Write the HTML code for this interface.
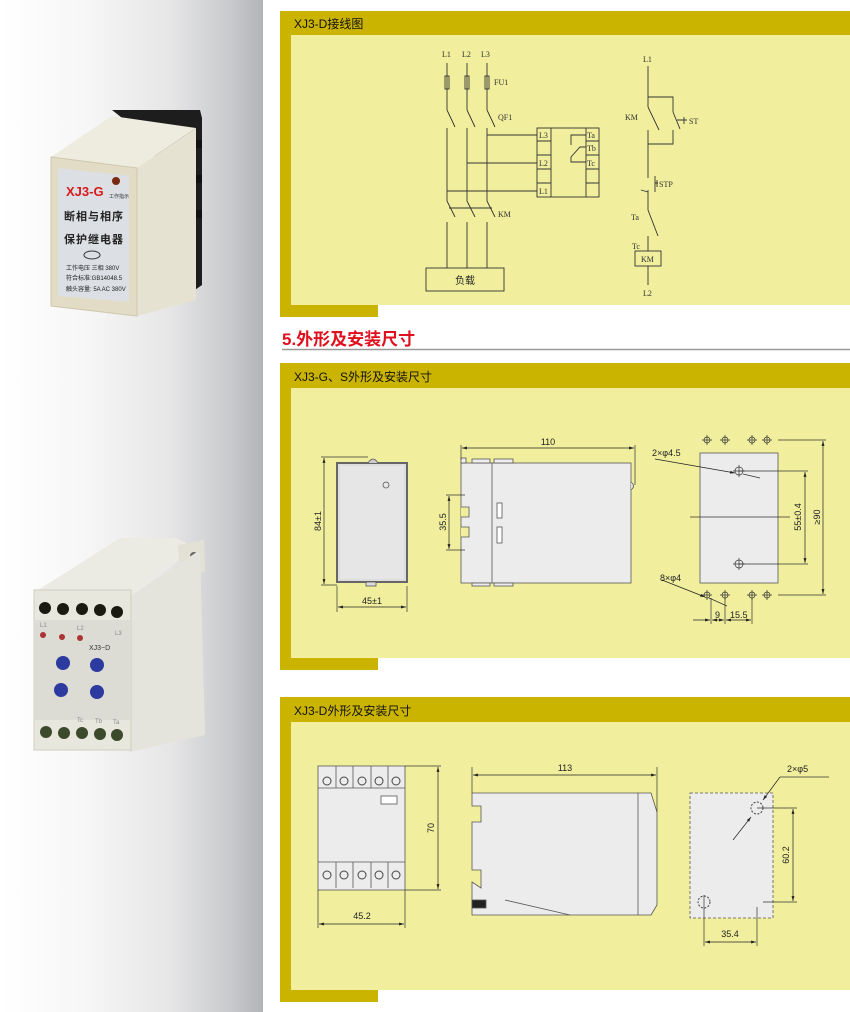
<!DOCTYPE html>
<html><head><meta charset="utf-8"><style>
html,body{margin:0;padding:0}
body{width:850px;height:1012px;position:relative;overflow:hidden;background:#fff;font-family:"Liberation Sans","Noto Sans CJK SC",sans-serif}
#left{position:absolute;left:0;top:0;width:263px;height:1012px;background:linear-gradient(to right,#fff 0,#f6f6f6 90px,#e6e6e7 170px,#c9cacd 230px,#b3b4b8 262px)}
svg{position:absolute;left:0;top:0}
</style></head><body>
<div id="left"></div>
<svg width="850" height="1012" viewBox="0 0 850 1012" font-family="Liberation Sans, Noto Sans CJK SC, sans-serif">
<defs>
<marker id="a" viewBox="0 0 10 10" refX="10" refY="5" markerWidth="7" markerHeight="7" orient="auto-start-reverse"><path d="M0,2L10,5L0,8Z" fill="#222"/></marker>
</defs>
<!-- Device 1 -->
<polygon points="112,110 200,110 202,118 202,285 192,292 150,140" fill="#1d1d1d"/>
<polygon points="51,157 137,168 196,128 112,116" fill="#eeebdf"/>
<polygon points="137,168 196,128 196,300 137,316" fill="#e6e2d2"/>
<rect x="196" y="140" width="6" height="8" fill="#111"/><rect x="196" y="175" width="6" height="8" fill="#111"/><rect x="196" y="210" width="6" height="8" fill="#111"/>
<polygon points="51,157 137,168 137,316 51,306" fill="#e2dcc6" stroke="#cfc7ad"/>
<polygon points="58,168 129,176 129,302 58,296" fill="#dcdfe4"/>
<circle cx="116" cy="181" r="4" fill="#7a2a10"/>
<text x="66" y="196" font-size="13" font-weight="bold" fill="#d81a1a">XJ3-G</text>
<text x="109" y="198" font-size="5" fill="#333">工作指示</text>
<text x="64" y="220" font-size="11" font-weight="bold" fill="#222" letter-spacing="1">断相与相序</text>
<text x="64" y="243" font-size="11" font-weight="bold" fill="#222" letter-spacing="1">保护继电器</text>
<ellipse cx="92" cy="255" rx="8" ry="4" fill="none" stroke="#333"/>
<text x="66" y="270" font-size="6" fill="#222">工作电压 三相 380V</text>
<text x="66" y="280" font-size="6" fill="#222">符合标准:GB14048.5</text>
<text x="66" y="291" font-size="6" fill="#222">触头容量: 5A AC 380V</text>
<!-- Device 2 -->
<polygon points="38,590 130,596 196,548 176,538 120,538" fill="#ecebe3"/>
<polygon points="178,545 204,540 205,572 180,575" fill="#e3e0d6"/>
<circle cx="194" cy="556" r="4" fill="#666"/>
<polygon points="130,596 200,550 205,735 130,752" fill="#e5e4dc"/>
<rect x="34" y="590" width="97" height="160" fill="#e8e7de" stroke="#cfcdc2"/>
<rect x="34" y="620" width="97" height="100" fill="#dddcd4"/>
<g fill="#1a1a10"><circle cx="45" cy="608" r="6"/><circle cx="63" cy="609" r="6"/><circle cx="82" cy="609" r="6"/><circle cx="100" cy="610" r="6"/><circle cx="117" cy="612" r="6"/></g>
<g fill="#3b4a2a"><circle cx="46" cy="732" r="6"/><circle cx="64" cy="733" r="6"/><circle cx="82" cy="733" r="6"/><circle cx="100" cy="734" r="6"/><circle cx="117" cy="735" r="6"/></g>
<g fill="#a33"><circle cx="43" cy="635" r="3"/><circle cx="62" cy="637" r="3"/><circle cx="80" cy="638" r="3"/></g>
<text x="89" y="650" font-size="7" fill="#333">XJ3−D</text>
<g fill="#2d3aa0"><circle cx="63" cy="663" r="7"/><circle cx="97" cy="665" r="7"/><circle cx="61" cy="690" r="7"/><circle cx="97" cy="692" r="7"/></g>
<text x="40" y="627" font-size="6" fill="#888">L1</text><text x="77" y="630" font-size="6" fill="#888">L2</text><text x="115" y="635" font-size="6" fill="#888">L3</text>
<text x="77" y="722" font-size="6" fill="#888">Tc</text><text x="95" y="723" font-size="6" fill="#888">Tb</text><text x="113" y="724" font-size="6" fill="#888">Ta</text>

<!-- Panels -->
<g fill="#cbb400">
<rect x="280" y="11" width="570" height="24"/><rect x="280" y="11" width="11" height="306"/><rect x="280" y="305" width="98" height="12"/>
<rect x="280" y="363" width="570" height="25"/><rect x="280" y="363" width="11" height="307"/><rect x="280" y="658" width="98" height="12"/>
<rect x="280" y="697" width="570" height="25"/><rect x="280" y="697" width="11" height="305"/><rect x="280" y="990" width="98" height="12"/>
</g>
<g fill="#f1ef9d">
<rect x="291" y="35" width="559" height="270"/><rect x="291" y="388" width="559" height="270"/><rect x="291" y="722" width="559" height="268"/>
</g>
<g font-size="12" fill="#111">
<text x="294" y="28">XJ3-D接线图</text>
<text x="294" y="381">XJ3-G、S外形及安装尺寸</text>
<text x="294" y="715">XJ3-D外形及安装尺寸</text>
</g>
<text x="282" y="345" font-size="17" font-weight="bold" fill="#e0101e">5.外形及安装尺寸</text>
<line x1="282" y1="349.5" x2="850" y2="349.5" stroke="#999" stroke-width="1.5"/>

<!-- Wiring diagram -->
<g stroke="#333" stroke-width="0.9" fill="none">
<path d="M447,63V110 M467,63V110 M487,63V110"/>
<rect x="445" y="76" width="4" height="13"/><rect x="465" y="76" width="4" height="13"/><rect x="485" y="76" width="4" height="13"/>
<path d="M447,110L455,127 M467,110L475,127 M487,110L495,127"/>
<path d="M447,128V201 M467,128V201 M487,128V201"/>
<path d="M487,135H537 M467,163H537 M447,191H537"/>
<rect x="537" y="128" width="62" height="69"/>
<path d="M551,128V197 M586,128V197 M537,141H551 M537,155H551 M537,169H551 M537,183H551 M586,141H599 M586,155H599 M586,169H599 M586,183H599"/>
<path d="M586,135H571V145 M586,147H580L571,157V162H586"/>
<path d="M447,201L455,217 M467,201L475,217 M487,201L495,217 M449,208H492"/>
<path d="M447,222V268 M467,222V268 M487,222V268"/>
<rect x="426" y="268" width="78" height="23"/>
<path d="M648,66V107 M648,107L659,130 M648,130V170 M648,97H673V112 M673,112L680,129 M673,130V144H648"/>
<path d="M677,120H687 M684,117V124"/>
<path d="M648,170V178 M655,176V192 M648,192L641,190 M648,190V210 M655,183H658 M657,180V187"/>
<path d="M648,210L658,236 M648,236V251"/>
<rect x="635" y="251" width="26" height="15"/>
<path d="M648,266V285"/>
</g>
<g font-family="Liberation Serif, serif" font-size="8" fill="#333">
<text x="442" y="57">L1</text><text x="462" y="57">L2</text><text x="481" y="57">L3</text>
<text x="494" y="85">FU1</text><text x="498" y="120">QF1</text><text x="498" y="217">KM</text>
<text x="539" y="138">L3</text><text x="539" y="166">L2</text><text x="539" y="194">L1</text>
<text x="587" y="138">Ta</text><text x="587" y="151">Tb</text><text x="587" y="166">Tc</text>
<text x="643" y="62">L1</text><text x="625" y="120">KM</text><text x="689" y="124">ST</text>
<text x="659" y="187">STP</text><text x="631" y="220">Ta</text><text x="632" y="249">Tc</text>
<text x="641" y="262">KM</text><text x="643" y="296">L2</text>
</g>
<text x="465" y="284" font-size="10" text-anchor="middle" fill="#222">负载</text>

<!-- Panel 2 drawings -->
<g stroke="#555" stroke-width="0.8">
<rect x="337" y="463" width="70" height="119" fill="#ddd" stroke="#666" stroke-width="2"/>
<rect x="340" y="466" width="64" height="113" fill="#e6e6e6" stroke="none"/>
<circle cx="386" cy="485" r="3" fill="none"/>
<path d="M368,463Q373,455 378,463" fill="#ccc"/>
<rect x="366" y="582" width="10" height="4" fill="#ddd"/>
<rect x="461" y="463" width="170" height="120" fill="#ececec"/>
<path d="M492,463V583" fill="none"/>
<rect x="472" y="459" width="18" height="4" fill="#eee"/><rect x="494" y="459" width="19" height="4" fill="#eee"/>
<rect x="472" y="583" width="18" height="3" fill="#eee"/><rect x="494" y="583" width="19" height="3" fill="#eee"/>
<rect x="461" y="458" width="5" height="5" fill="#eee"/>
<path d="M461,507H469V517H461 M461,527H469V537H461" fill="#f1ef9d"/>
<rect x="497" y="503" width="5" height="15" fill="#fff"/><rect x="497" y="527" width="5" height="16" fill="#fff"/>
<path d="M631,482Q636,486 631,490" fill="#ddd"/>
<rect x="700" y="453" width="78" height="130" fill="#ececec"/>
</g>
<g stroke="#333" stroke-width="0.7" fill="none">
<path d="M321,457H368 M321,585H337 M337,586V612 M407,586V612"/>
<path d="M461,445V460 M635,445V485"/>
<path d="M446,495H465 M446,550H465"/>
<path d="M739,471H808 M739,564H808 M778,440H826 M778,595H826 M690,517H790"/>
<path d="M711,598V624 M725,598V624 M752,598V624"/>
</g>
<g stroke="#222" stroke-width="0.7" fill="none" marker-start="url(#a)" marker-end="url(#a)">
<path d="M324,458V584"/><path d="M338,607H406"/><path d="M462,448H634"/><path d="M449,496V549"/>
<path d="M805,472V563"/><path d="M823,441V594"/>
<path d="M712,620H724"/><path d="M726,620H751"/>
</g>
<g stroke="#222" stroke-width="0.7" fill="none" marker-end="url(#a)">
<path d="M655,459L735,473"/><path d="M662,580L705,597"/><path d="M693,620H710"/>
</g>
<g stroke="#333" stroke-width="0.7" fill="none">
<path d="M743,474L760,478 M709,598L727,606"/>
<circle cx="739" cy="471" r="4"/><circle cx="739" cy="564" r="4"/>
<circle cx="707" cy="440" r="3"/><circle cx="725" cy="440" r="3"/><circle cx="752" cy="440" r="3"/><circle cx="767" cy="440" r="3"/>
<circle cx="707" cy="595" r="3"/><circle cx="725" cy="595" r="3"/><circle cx="752" cy="595" r="3"/><circle cx="767" cy="595" r="3"/>
<path d="M707,435V445M702,440H712 M725,435V445M720,440H730 M752,435V445M747,440H757 M767,435V445M762,440H772 M707,590V600M702,595H712 M725,590V600M720,595H730 M752,590V600M747,595H757 M767,590V600M762,595H772 M739,465V477M733,471H745 M739,558V570M733,564H745"/>
</g>
<g fill="#222" font-size="9">
<text x="548" y="445" text-anchor="middle">110</text>
<text x="372" y="604" text-anchor="middle">45±1</text>
<text x="652" y="456">2×φ4.5</text>
<text x="660" y="581">8×φ4</text>
<text x="715" y="618">9</text><text x="730" y="618">15.5</text>
<text transform="translate(321,521) rotate(-90)" text-anchor="middle">84±1</text>
<text transform="translate(446,522) rotate(-90)" text-anchor="middle">35.5</text>
<text transform="translate(801,517) rotate(-90)" text-anchor="middle">55±0.4</text>
<text transform="translate(820,517) rotate(-90)" text-anchor="middle">≥90</text>
</g>

<!-- Panel 3 drawings -->
<g stroke="#555" stroke-width="0.8">
<rect x="318" y="766" width="87" height="124" fill="#ececec"/>
<path d="M318,788H405 M318,862H405 M336,766V788 M353,766V788 M371,766V788 M388,766V788 M336,862V888 M353,862V888 M371,862V888 M388,862V888" fill="none"/>
<rect x="381" y="796" width="16" height="8" fill="#fff"/>
<path d="M472,793H651L657,812V905L651,915H472V882L481,888V870H472V822H481V806H472Z" fill="#ececec"/>
<path d="M638,793V915 M505,900L570,915" fill="none"/>
<rect x="472" y="900" width="14" height="8" fill="#222"/>
<rect x="690" y="793" width="83" height="125" fill="#ececec" stroke-dasharray="3,2"/>
</g>
<g fill="none" stroke="#444" stroke-width="1">
<circle cx="327" cy="781" r="4"/><circle cx="344" cy="781" r="4"/><circle cx="362" cy="781" r="4"/><circle cx="379" cy="781" r="4"/><circle cx="396" cy="781" r="4"/>
<circle cx="327" cy="875" r="4"/><circle cx="344" cy="875" r="4"/><circle cx="362" cy="875" r="4"/><circle cx="379" cy="875" r="4"/><circle cx="396" cy="875" r="4"/>
<circle cx="757" cy="808" r="6" stroke-dasharray="2,1.5"/><circle cx="704" cy="902" r="6" stroke-dasharray="2,1.5"/>
</g>
<g stroke="#333" stroke-width="0.7" fill="none">
<path d="M405,766H441 M405,890H441 M318,890V928 M405,890V928"/>
<path d="M472,767V793 M657,767V812"/>
<path d="M757,808H797 M763,902H797 M704,895V946 M757,907V946"/>
<path d="M829,777H780"/>
</g>
<g stroke="#222" stroke-width="0.7" fill="none" marker-start="url(#a)" marker-end="url(#a)">
<path d="M438,767V889"/><path d="M319,924H404"/><path d="M473,775H656"/><path d="M793,809V901"/><path d="M705,942H756"/>
</g>
<g stroke="#222" stroke-width="0.7" fill="none" marker-end="url(#a)">
<path d="M780,777L763,800"/><path d="M733,840L751,817"/>
</g>
<g fill="#222" font-size="9">
<text x="565" y="771" text-anchor="middle">113</text>
<text x="362" y="919" text-anchor="middle">45.2</text>
<text x="730" y="937" text-anchor="middle">35.4</text>
<text x="787" y="772">2×φ5</text>
<text transform="translate(434,828) rotate(-90)" text-anchor="middle">70</text>
<text transform="translate(789,855) rotate(-90)" text-anchor="middle">60.2</text>
</g>
</svg>
</body></html>
